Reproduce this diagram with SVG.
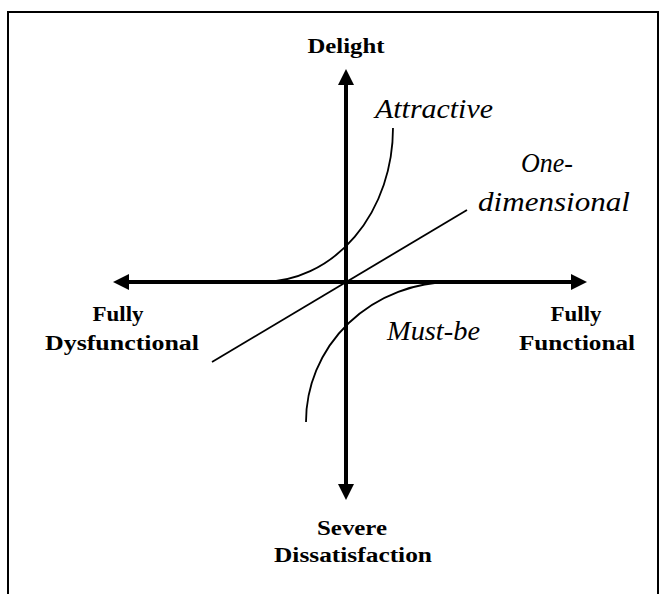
<svg xmlns="http://www.w3.org/2000/svg" width="661" height="594" viewBox="0 0 661 594">
<style>
.b{font-family:"Liberation Serif","Times New Roman",serif;font-weight:bold;font-size:20.5px;fill:#000}
.i{font-family:"Liberation Serif","Times New Roman",serif;font-style:italic;font-size:27px;fill:#000}
.ax{stroke:#000;stroke-width:4;fill:none}
.cv{stroke:#000;stroke-width:1.8;fill:none}
</style>
<defs>
<marker id="ah" viewBox="0 0 16 16" refX="1" refY="8" markerWidth="16" markerHeight="16" orient="auto-start-reverse" markerUnits="userSpaceOnUse"><path d="M0,0 L16,8 L0,16 z" fill="#000"/></marker>
</defs>
<rect width="661" height="594" fill="#fff"/>
<path id="frame" d="M8,594 V12 H658 V594" fill="none" stroke="#000" stroke-width="2"/>
<g id="connectors">
<line class="ax" x1="346" y1="485" x2="346" y2="84" marker-start="url(#ah)" marker-end="url(#ah)"/>
<line class="ax" x1="128" y1="282" x2="572" y2="282" marker-start="url(#ah)" marker-end="url(#ah)"/>
<path id="attractive-curve" class="cv" d="M262,282 A131,154 0 0 0 393,128"/>
<path id="mustbe-curve" class="cv" d="M452,282 A146,140 0 0 0 306,422"/>
<line id="onedim-line" class="cv" x1="212" y1="362" x2="467" y2="210"/>
</g>
<g id="delight"><text class="b" x="346" y="53" text-anchor="middle" textLength="77" lengthAdjust="spacingAndGlyphs">Delight</text></g>
<g id="attractive"><text class="i" x="375" y="118" textLength="118" lengthAdjust="spacingAndGlyphs">Attractive</text></g>
<g id="one-dimensional"><text class="i" x="521" y="172" textLength="52" lengthAdjust="spacingAndGlyphs">One-</text><text class="i" x="478" y="211" textLength="152" lengthAdjust="spacingAndGlyphs">dimensional</text></g>
<g id="fully-dysfunctional"><text class="b" x="118" y="321" text-anchor="middle" textLength="51" lengthAdjust="spacingAndGlyphs">Fully</text><text class="b" x="122" y="350" text-anchor="middle" textLength="154" lengthAdjust="spacingAndGlyphs">Dysfunctional</text></g>
<g id="must-be"><text class="i" x="387" y="340" textLength="93" lengthAdjust="spacingAndGlyphs">Must-be</text></g>
<g id="fully-functional"><text class="b" x="576" y="321" text-anchor="middle" textLength="51" lengthAdjust="spacingAndGlyphs">Fully</text><text class="b" x="577" y="350" text-anchor="middle" textLength="116" lengthAdjust="spacingAndGlyphs">Functional</text></g>
<g id="severe-dissatisfaction"><text class="b" x="352" y="535" text-anchor="middle" textLength="70" lengthAdjust="spacingAndGlyphs">Severe</text><text class="b" x="353" y="562" text-anchor="middle" textLength="158" lengthAdjust="spacingAndGlyphs">Dissatisfaction</text></g>
</svg>
